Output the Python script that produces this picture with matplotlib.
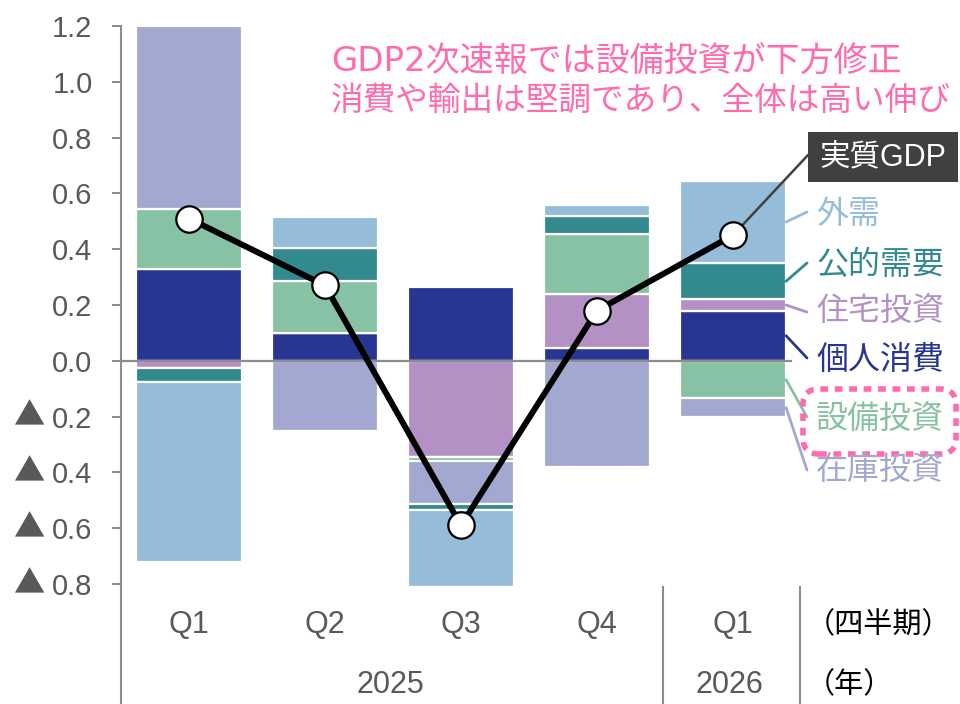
import matplotlib
matplotlib.use("Agg")
import matplotlib.pyplot as plt
import matplotlib.transforms as mtransforms
import numpy as np
from matplotlib.patches import Rectangle, FancyBboxPatch
from matplotlib.lines import Line2D

# --- data (contribution to real GDP growth, q/q %) ---
quarters = ['Q1', 'Q2', 'Q3', 'Q4', 'Q1']
years = ['2025', '2026']
consumption = [0.33, 0.10, 0.265, 0.045, 0.18]      # 個人消費
housing = [-0.025, 0.0, -0.345, 0.195, 0.04]         # 住宅投資
capex = [0.215, 0.185, -0.015, 0.215, -0.135]        # 設備投資
inventory = [0.655, -0.25, -0.155, -0.38, -0.065]    # 在庫投資
public = [-0.05, 0.12, -0.02, 0.065, 0.13]           # 公的需要
external = [-0.645, 0.11, -0.275, 0.04, 0.295]       # 外需
gdp = [0.51, 0.27, -0.59, 0.18, 0.45]                # 実質GDP

series_names = ['個人消費', '住宅投資', '設備投資', '在庫投資', '公的需要', '外需']
series_values = [consumption, housing, capex, inventory, public, external]
series_colors = ['#283593', '#B391C4', '#87C2A4', '#A3A8D0', '#338A8E', '#95BCD9']

y_ticks = [-0.8, -0.6, -0.4, -0.2, 0.0, 0.2, 0.4, 0.6, 0.8, 1.0, 1.2]

plt.rcParams['font.family'] = ['Liberation Sans', 'Noto Sans CJK JP', 'DejaVu Sans']

W, H = 960, 704
PINK = '#FF6BAE'
GRAY_TXT = '#595959'
LINE_GRAY = '#8C8C8C'


def px(x, y):
    # pixel position (from top-left) -> figure fraction
    return x / W, 1 - y / H


fig = plt.figure(figsize=(9.6, 7.04), dpi=100)
x0, y0 = px(121, 584)
x1, y1 = px(801, 26)
ax = fig.add_axes([x0, y0, x1 - x0, y1 - y0])

x = np.arange(len(quarters))
bar_w = 0.78

# stacked bars, positives and negatives stacked separately
pos_bottom = np.zeros(len(x))
neg_bottom = np.zeros(len(x))
seg_center_last = {}
for name, vals, col in zip(series_names, series_values, series_colors):
    vals = np.array(vals)
    bottoms = np.where(vals >= 0, pos_bottom, neg_bottom)
    ax.bar(x, vals, bar_w, bottom=bottoms, color=col, edgecolor='white',
           linewidth=1.6, zorder=2, clip_on=False)
    seg_center_last[name] = bottoms[-1] + vals[-1] / 2
    pos_bottom = pos_bottom + np.where(vals >= 0, vals, 0)
    neg_bottom = neg_bottom + np.where(vals < 0, vals, 0)

ax.axhline(0, xmin=0, xmax=0.985, color=LINE_GRAY, linewidth=1.6, zorder=3)

# GDP line
ax.plot(x, gdp, color='black', linewidth=4.3, zorder=4)
ax.plot(x, gdp, linestyle='none', marker='o', markersize=19,
        markerfacecolor='white', markeredgecolor='black', markeredgewidth=1.6,
        zorder=5)

ax.set_xlim(-0.5, len(x) - 0.5)
ax.set_ylim(-0.8, 1.2)
ax.set_yticks(y_ticks)
ax.set_yticklabels(['{:.1f}'.format(abs(v)) for v in y_ticks])
ax.tick_params(axis='y', length=6.5, width=1.3, color='#808080', labelsize=21,
               labelcolor=GRAY_TXT, pad=14)
# negative values are shown with a large ▲ in front
tri_trans = mtransforms.blended_transform_factory(fig.transFigure, ax.transData)
for v in y_ticks:
    if v < 0:
        ax.text(29 / W, v, '▲', transform=tri_trans, ha='center', va='center',
                fontsize=22.5, color=GRAY_TXT, family='Noto Sans CJK JP', clip_on=False)
ax.set_xticks([])
for s in ax.spines.values():
    s.set_visible(False)

# axis lines drawn in figure space (left axis goes down through the labels)
fig.add_artist(Line2D([121 / W, 121 / W], [1 - 26 / H, 0], transform=fig.transFigure,
                      color=LINE_GRAY, linewidth=1.5))
for sx in [663, 800]:
    fig.add_artist(Line2D([sx / W, sx / W], [1 - 587 / H, 0], transform=fig.transFigure,
                          color=LINE_GRAY, linewidth=1.5))

# category labels
for i, q in enumerate(quarters):
    xf = ax.transData.transform((i, 0))[0] / fig.dpi / 9.6
    fig.text(xf, 1 - 625 / H, q, ha='center', va='center', fontsize=22, color=GRAY_TXT)
fig.text(*px(390, 685), years[0], ha='center', va='center', fontsize=22, color=GRAY_TXT)
fig.text(*px(729, 685), years[1], ha='center', va='center', fontsize=22, color=GRAY_TXT)
fig.text(*px(806, 625), '（四半期）', ha='left', va='center', fontsize=21, color='black')
fig.text(*px(806, 685), '（年）', ha='left', va='center', fontsize=21, color='black')

# pink comment
pink_font = ['DejaVu Sans', 'Noto Sans CJK JP']
fig.text(*px(331, 62), 'GDP2次速報では設備投資が下方修正', ha='left', va='center',
         fontsize=24.5, color=PINK, family=pink_font)
fig.text(*px(331, 100), '消費や輸出は堅調であり、全体は高い伸び', ha='left', va='center',
         fontsize=23.5, color=PINK, family=pink_font)

# labels for the last bar
label_pos = {
    '外需': (212, 215),
    '公的需要': (263, 266),
    '住宅投資': (312, 312),
    '個人消費': (358, 361),
    '設備投資': (417, 420),
    '在庫投資': (470, 471),
}
bar_right = x[-1] + bar_w / 2
for name, col in zip(series_names, series_colors):
    end_y, txt_y = label_pos[name]
    ax.annotate('', xy=px(807, end_y), xycoords='figure fraction',
                xytext=(bar_right, seg_center_last[name]), textcoords='data',
                arrowprops=dict(arrowstyle='-', color=col, linewidth=2,
                                shrinkA=0, shrinkB=0), annotation_clip=False)
    fig.text(*px(816, txt_y), name, ha='left', va='center', fontsize=23, color=col)

# 実質GDP box and leader
ax.annotate('', xy=px(808, 155), xycoords='figure fraction',
            xytext=(x[-1], gdp[-1]), textcoords='data',
            arrowprops=dict(arrowstyle='-', color='#404040', linewidth=1.8,
                            shrinkA=0, shrinkB=0), annotation_clip=False, zorder=3)
bx, by = px(808, 182)
fig.add_artist(Rectangle((bx, by), 150 / W, 50 / H, transform=fig.transFigure,
                         facecolor='#404040', edgecolor='none'))
fig.text(*px(883, 157), '実質GDP', ha='center', va='center', fontsize=22, color='white')

# dotted highlight around 設備投資
fig.add_artist(FancyBboxPatch((8.03, (H - 454) / 100), 1.53, 0.65,
                              boxstyle='round,pad=0,rounding_size=0.16',
                              transform=fig.dpi_scale_trans, facecolor='none',
                              edgecolor=PINK, linewidth=4, linestyle=(0, (1.4, 1.2))))

fig.savefig('out.png', dpi=100)
plt.close(fig)
